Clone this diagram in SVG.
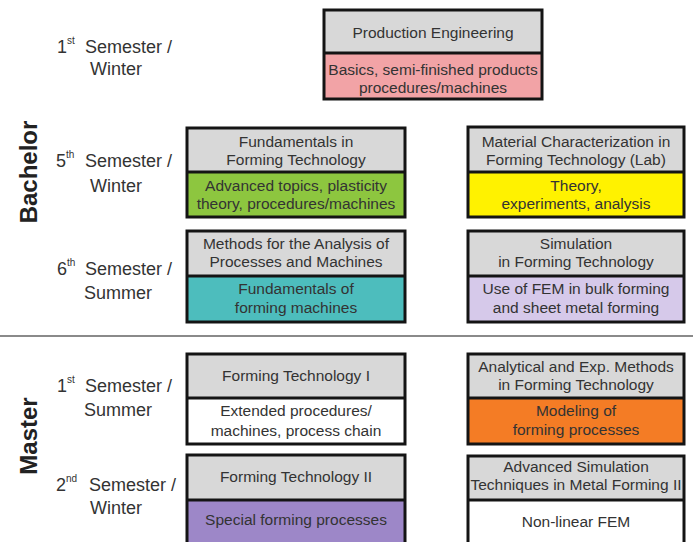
<svg xmlns="http://www.w3.org/2000/svg" width="693" height="542" viewBox="0 0 693 542">
<style>
.box{stroke:#141414;stroke-width:3}
.hd{fill:#d8d8d8}
.dv{stroke:#141414;stroke-width:3}
.t{font-family:"Liberation Sans",Arial,sans-serif;font-size:15.5px;fill:#333;text-anchor:middle}
.sem{font-family:"Liberation Sans",Arial,sans-serif;font-size:18px;fill:#333}
.sup{font-size:10px}
.sec{font-family:"Liberation Sans",Arial,sans-serif;font-size:24px;font-weight:bold;fill:#222;text-anchor:middle}
</style>
<rect width="693" height="542" fill="#ffffff"/>
<g id="sections">
<text class="sec" transform="translate(37,172) rotate(-90)">Bachelor</text>
<text class="sec" transform="translate(37,436) rotate(-90)">Master</text>
<line x1="0" y1="336" x2="693" y2="336" stroke="#8a8a8a" stroke-width="2"/>
</g>
<g id="semesters">
<g id="sem-b1"><text class="sem" x="57" y="53">1</text><text class="sem sup" x="67" y="44">st</text><text class="sem" x="85" y="53">Semester /</text><text class="sem" x="116" y="75" text-anchor="middle">Winter</text></g>
<g id="sem-b5"><text class="sem" x="56" y="167">5</text><text class="sem sup" x="66" y="158">th</text><text class="sem" x="85" y="167">Semester /</text><text class="sem" x="116" y="192" text-anchor="middle">Winter</text></g>
<g id="sem-b6"><text class="sem" x="57" y="275">6</text><text class="sem sup" x="67" y="266">th</text><text class="sem" x="85" y="275">Semester /</text><text class="sem" x="118" y="299" text-anchor="middle">Summer</text></g>
<g id="sem-m1"><text class="sem" x="57" y="392">1</text><text class="sem sup" x="67" y="383">st</text><text class="sem" x="85" y="392">Semester /</text><text class="sem" x="118" y="416" text-anchor="middle">Summer</text></g>
<g id="sem-m2"><text class="sem" x="56" y="491">2</text><text class="sem sup" x="66" y="482">nd</text><text class="sem" x="89" y="491">Semester /</text><text class="sem" x="116" y="514" text-anchor="middle">Winter</text></g>
</g>
<g id="connectors"/>
<g id="production-engineering">
<rect class="hd" x="324" y="10" width="218" height="43"/>
<rect x="324" y="53" width="218" height="46" fill="#f2a3a6"/>
<rect class="box" x="324" y="10" width="218" height="89" fill="none"/>
<line class="dv" x1="324" y1="53" x2="542" y2="53"/>
<text class="t" x="433" y="38">Production Engineering</text>
<text class="t" x="433" y="75">Basics, semi-finished products</text>
<text class="t" x="433" y="93">procedures/machines</text>
</g>
<g id="fundamentals-forming">
<rect class="hd" x="187" y="128" width="218" height="44"/>
<rect x="187" y="172" width="218" height="45" fill="#8dc63f"/>
<rect class="box" x="187" y="128" width="218" height="89" fill="none"/>
<line class="dv" x1="187" y1="172" x2="405" y2="172"/>
<text class="t" x="296" y="147">Fundamentals in</text>
<text class="t" x="296" y="165">Forming Technology</text>
<text class="t" x="296" y="191">Advanced topics, plasticity</text>
<text class="t" x="296" y="209">theory, procedures/machines</text>
</g>
<g id="material-characterization">
<rect class="hd" x="468" y="127" width="216" height="45"/>
<rect x="468" y="172" width="216" height="45" fill="#fff200"/>
<rect class="box" x="468" y="127" width="216" height="90" fill="none"/>
<line class="dv" x1="468" y1="172" x2="684" y2="172"/>
<text class="t" x="576" y="147">Material Characterization in</text>
<text class="t" x="576" y="165">Forming Technology (Lab)</text>
<text class="t" x="576" y="191">Theory,</text>
<text class="t" x="576" y="209">experiments, analysis</text>
</g>
<g id="methods-analysis">
<rect class="hd" x="187" y="231" width="218" height="45"/>
<rect x="187" y="276" width="218" height="46" fill="#4dbdbd"/>
<rect class="box" x="187" y="231" width="218" height="91" fill="none"/>
<line class="dv" x1="187" y1="276" x2="405" y2="276"/>
<text class="t" x="296" y="249">Methods for the Analysis of</text>
<text class="t" x="296" y="267">Processes and Machines</text>
<text class="t" x="296" y="294">Fundamentals of</text>
<text class="t" x="296" y="313">forming machines</text>
</g>
<g id="simulation">
<rect class="hd" x="468" y="231" width="216" height="45"/>
<rect x="468" y="276" width="216" height="46" fill="#d6c9ea"/>
<rect class="box" x="468" y="231" width="216" height="91" fill="none"/>
<line class="dv" x1="468" y1="276" x2="684" y2="276"/>
<text class="t" x="576" y="249">Simulation</text>
<text class="t" x="576" y="267">in Forming Technology</text>
<text class="t" x="576" y="294">Use of FEM in bulk forming</text>
<text class="t" x="576" y="313">and sheet metal forming</text>
</g>
<g id="forming-technology-1">
<rect class="hd" x="187" y="354" width="218" height="44"/>
<rect x="187" y="398" width="218" height="46" fill="#ffffff"/>
<rect class="box" x="187" y="354" width="218" height="90" fill="none"/>
<line class="dv" x1="187" y1="398" x2="405" y2="398"/>
<text class="t" x="296" y="381">Forming Technology I</text>
<text class="t" x="296" y="416">Extended procedures/</text>
<text class="t" x="296" y="436">machines, process chain</text>
</g>
<g id="analytical-methods">
<rect class="hd" x="468" y="354" width="216" height="44"/>
<rect x="468" y="398" width="216" height="46" fill="#f47c25"/>
<rect class="box" x="468" y="354" width="216" height="90" fill="none"/>
<line class="dv" x1="468" y1="398" x2="684" y2="398"/>
<text class="t" x="576" y="372">Analytical and Exp. Methods</text>
<text class="t" x="576" y="390">in Forming Technology</text>
<text class="t" x="576" y="416">Modeling of</text>
<text class="t" x="576" y="435">forming processes</text>
</g>
<g id="forming-technology-2">
<rect class="hd" x="187" y="455" width="218" height="45"/>
<rect x="187" y="500" width="218" height="46" fill="#9d87c8"/>
<rect class="box" x="187" y="455" width="218" height="91" fill="none"/>
<line class="dv" x1="187" y1="500" x2="405" y2="500"/>
<text class="t" x="296" y="482">Forming Technology II</text>
<text class="t" x="296" y="525">Special forming processes</text>
</g>
<g id="advanced-simulation">
<rect class="hd" x="468" y="456" width="216" height="44"/>
<rect x="468" y="500" width="216" height="46" fill="#ffffff"/>
<rect class="box" x="468" y="456" width="216" height="90" fill="none"/>
<line class="dv" x1="468" y1="500" x2="684" y2="500"/>
<text class="t" x="576" y="472">Advanced Simulation</text>
<text class="t" x="576" y="490">Techniques in Metal Forming II</text>
<text class="t" x="576" y="527">Non-linear FEM</text>
</g>
</svg>
